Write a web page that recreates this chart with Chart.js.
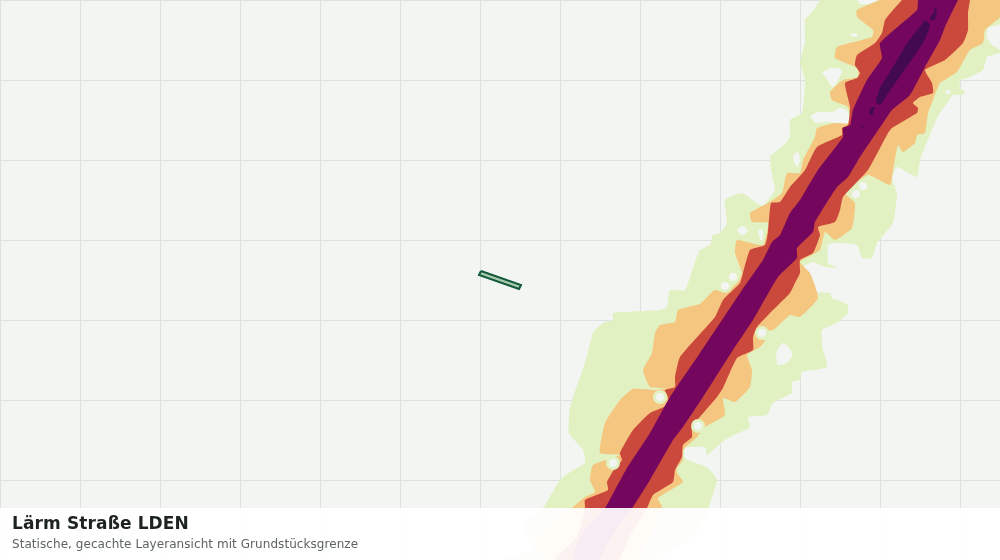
<!DOCTYPE html>
<html>
<head>
<meta charset="utf-8">
<title>Lärm Straße LDEN</title>
<script src="https://cdn.jsdelivr.net/npm/chart.js@4"></script>
<style>
  html, body { margin: 0; padding: 0; background: #f3f5f3; }
  #wrap { position: relative; width: 1000px; height: 560px; overflow: hidden; }
  #myChart { position: absolute; left: 0; top: 0; }
  #panel {
    position: absolute; left: 0; top: 508px; width: 1000px; height: 52px;
    background: rgba(255, 255, 255, 0.93);
    font-family: "DejaVu Sans", sans-serif;
  }
  #panel .t { position: absolute; left: 12px; top: 5px; font-size: 17px; letter-spacing: 0.12px; font-weight: bold; color: #1c2320; white-space: nowrap; }
  #panel .s { position: absolute; left: 12px; top: 29px; font-size: 12px; letter-spacing: 0.06px; color: #5c6461; white-space: nowrap; }
</style>
</head>
<body>
<div id="wrap">
  <canvas id="myChart" width="1000" height="560"></canvas>
  <div id="panel">
    <div class="t">Lärm Straße LDEN</div>
    <div class="s">Statische, gecachte Layeransicht mit Grundstücksgrenze</div>
  </div>
</div>
<script>
// noise bands in map units (x east, y south), outermost first
const band1 = [[820,0],[812,12],[805,20],[805,42],[800,63],[805,80],[802,113],[790,120],[790,137],[782,147],[770,157],[773,180],[775,190],[763,206],[757,203],[742,193],[725,200],[727,223],[720,233],[713,235],[710,245],[700,250],[695,262],[685,290],[670,290],[667,307],[660,310],[613,313],[613,320],[603,323],[593,333],[585,363],[570,407],[569,433],[583,450],[585,463],[573,470],[560,480],[543,508],[523,522],[523,533],[535,548],[500,560],[657,560],[667,553],[690,540],[703,523],[710,503],[717,480],[708,468],[693,462],[685,458],[685,448],[690,447],[705,447],[707,455],[725,440],[750,427],[748,417],[767,415],[773,403],[792,393],[792,382],[800,380],[802,372],[827,367],[823,350],[822,330],[837,323],[848,313],[847,304],[832,298],[830,293],[813,292],[810,287],[812,277],[803,267],[813,262],[825,267],[837,268],[828,263],[828,245],[833,243],[857,245],[862,258],[872,258],[877,243],[893,223],[897,193],[892,178],[897,167],[917,177],[920,160],[937,118],[947,103],[953,95],[963,95],[965,92],[960,88],[960,80],[967,78],[983,70],[987,57],[1000,53],[1000,50],[992,45],[987,38],[988,28],[1000,24],[1000,0]];
const band2 = [[880,0],[857,10],[857,17],[873,30],[872,37],[837,47],[835,58],[857,68],[858,77],[843,80],[830,92],[832,100],[848,107],[850,123],[835,123],[817,128],[815,137],[803,160],[800,173],[787,173],[782,193],[768,203],[750,213],[752,222],[768,223],[763,245],[737,240],[735,253],[742,273],[737,283],[725,292],[715,290],[707,297],[700,304],[678,310],[675,322],[660,325],[655,333],[652,353],[643,370],[650,387],[667,388],[655,390],[633,389],[620,400],[605,423],[600,453],[620,455],[593,465],[590,480],[595,492],[585,497],[573,507],[540,535],[535,548],[553,560],[637,560],[650,535],[662,507],[658,498],[683,482],[677,473],[677,468],[683,460],[683,450],[697,437],[705,427],[725,415],[723,398],[735,402],[750,387],[752,370],[747,355],[760,347],[765,340],[758,332],[773,330],[790,315],[800,317],[818,298],[810,273],[800,262],[820,250],[825,232],[835,240],[852,228],[855,203],[845,193],[868,175],[890,185],[893,170],[898,145],[903,152],[915,143],[917,135],[925,133],[928,113],[933,100],[940,83],[957,72],[970,50],[983,43],[985,30],[1000,17],[1000,0]];
const band3 = [[902,0],[893,10],[885,20],[882,33],[875,43],[857,55],[855,65],[860,73],[857,78],[845,83],[850,107],[848,125],[842,128],[842,135],[817,147],[805,170],[790,187],[780,202],[771,203],[768,232],[765,245],[750,250],[743,273],[740,283],[723,300],[715,317],[680,357],[675,377],[675,387],[665,390],[668,397],[668,405],[650,413],[633,430],[620,453],[622,460],[615,468],[607,482],[608,490],[585,500],[585,508],[577,537],[555,560],[618,560],[630,535],[647,508],[653,495],[673,482],[675,470],[682,457],[683,445],[692,437],[692,427],[717,397],[723,388],[737,358],[753,350],[753,337],[757,327],[773,310],[790,293],[795,283],[800,273],[800,260],[813,253],[820,235],[818,227],[835,222],[840,210],[843,197],[868,170],[888,133],[892,128],[917,113],[918,108],[913,103],[920,97],[933,93],[932,83],[925,70],[945,60],[963,43],[968,30],[968,13],[970,0]];
const band4 = [[918,0],[917,10],[880,43],[882,58],[867,80],[853,110],[850,125],[843,128],[843,137],[818,170],[800,200],[790,213],[780,235],[772,242],[763,260],[742,290],[700,353],[670,397],[650,433],[627,468],[615,490],[605,508],[587,527],[575,548],[575,560],[598,560],[615,530],[633,507],[650,480],[673,440],[683,427],[703,397],[733,350],[753,320],[778,277],[797,258],[797,248],[813,232],[815,222],[837,187],[848,177],[860,157],[883,123],[892,110],[910,95],[925,67],[940,40],[945,27],[958,0]];
const peakMain = [[925,20],[930,25],[923,43],[903,72],[887,95],[880,105],[876,102],[880,88],[893,67],[907,43]];
const peakTop = [[935,7],[937,10],[935,20],[930,20],[931,16],[934,13]];
const peakLow = [[872,107],[875,107],[872,116],[869,112]];
const peakDot = [[862,126],[863,127],[862,129],[861,127]];
// gaps inside the outer band
const gaps = [
  [[857,0],[877,0],[870,4],[860,4]],
  [[850,34],[855,33],[858,36],[853,37]],
  [[822,72],[832,68],[842,70],[838,80],[833,87],[826,78]],
  [[810,116],[818,112],[832,112],[840,108],[848,112],[848,124],[830,122],[815,123]],
  [[793,155],[798,152],[800,160],[797,167],[794,162]],
  [[737,229],[743,226],[748,231],[743,235],[738,233]],
  [[758,230],[762,229],[763,233],[762,240],[760,240]],
  [[776,352],[783,343],[790,349],[792,356],[785,364],[777,365]],
  [[945,91],[950,90],[950,94],[946,94]],
  [[560,525],[575,522],[583,530],[575,535],[562,540]]
];
const halos = [[762,333],[660,397],[698,426],[613,463],[733,277],[725,286],[863,186],[856,194]];
const parcel = [[481,271],[521,285],[519,289],[479,275]];

const gridStep = 80;
const bandColors = ['#e2f1c1', '#f4c680', '#cb493c', '#75065e', '#440a4f'];
const groundColor = '#f3f5f3';
const gridColor = '#dbe2de';

function pts(list) {
  return list.map(p => ({ x: p[0], y: p[1] }));
}

function area(list, color, order, tension) {
  return {
    data: pts(list),
    showLine: true,
    fill: 'shape',
    tension: tension,
    backgroundColor: color,
    borderColor: color,
    borderWidth: 0,
    pointRadius: 0,
    order: order
  };
}

const datasets = [
  // parcel outline on top of everything
  {
    data: pts(parcel.concat([parcel[0]])),
    showLine: true,
    fill: 'shape',
    backgroundColor: '#a9c9ad',
    borderColor: '#11593a',
    borderWidth: 2,
    pointRadius: 0,
    order: 0
  },
  { data: pts(halos), showLine: false, pointRadius: 4, pointBackgroundColor: groundColor, pointBorderWidth: 0, order: 1 },
  { data: pts(halos), showLine: false, pointRadius: 7, pointBackgroundColor: bandColors[0], pointBorderWidth: 0, order: 2 },
  area(peakMain, bandColors[4], 3, 0.2),
  area(peakTop, bandColors[4], 3, 0),
  area(peakLow, bandColors[4], 3, 0),
  area(peakDot, bandColors[4], 3, 0),
  area(band4, bandColors[3], 4, 0.15),
  area(band3, bandColors[2], 5, 0.15),
  area(band2, bandColors[1], 6, 0.15)
];
gaps.forEach(g => datasets.push(area(g, groundColor, 7, 0.3)));
datasets.push(area(band1, bandColors[0], 8, 0.15));

const ctx = document.getElementById('myChart');

new Chart(ctx, {
  type: 'scatter',
  data: { datasets: datasets },
  options: {
    responsive: false,
    animation: false,
    devicePixelRatio: 1,
    layout: { padding: 0, autoPadding: false },
    scales: {
      x: {
        type: 'linear',
        min: 0,
        max: 1000,
        border: { display: false },
        grid: { color: gridColor, lineWidth: 1, drawTicks: false },
        ticks: { display: false, stepSize: gridStep, includeBounds: false, autoSkip: false, maxTicksLimit: 20 }
      },
      y: {
        type: 'linear',
        min: 0,
        max: 560,
        reverse: true,
        border: { display: false },
        grid: { color: gridColor, lineWidth: 1, drawTicks: false },
        ticks: { display: false, stepSize: gridStep, includeBounds: false, autoSkip: false, maxTicksLimit: 20 }
      }
    },
    plugins: {
      legend: { display: false },
      title: { display: false },
      tooltip: { enabled: false }
    }
  },
  plugins: [{
    id: 'ground',
    beforeDraw(chart) {
      const c = chart.ctx;
      c.save();
      c.fillStyle = groundColor;
      c.fillRect(0, 0, chart.width, chart.height);
      c.restore();
    }
  }]
});
</script>
</body>
</html>
